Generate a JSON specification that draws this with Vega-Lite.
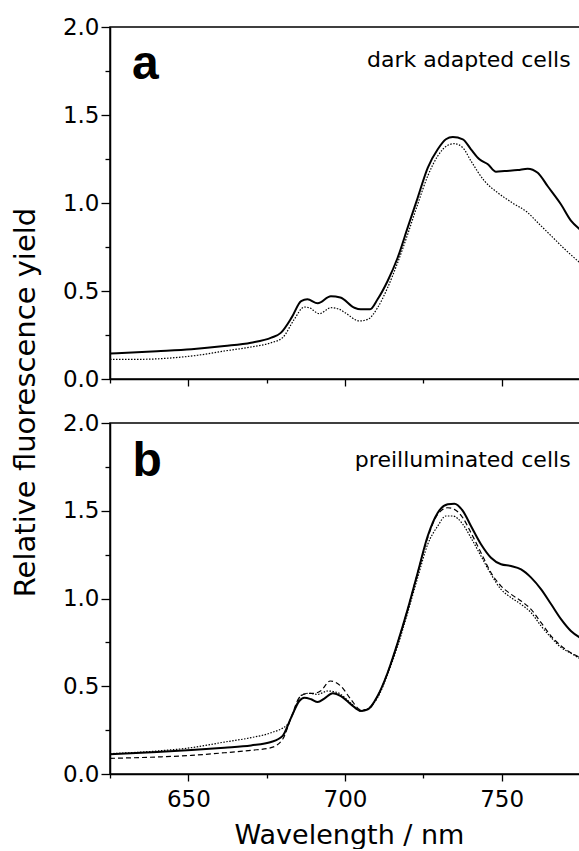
{
  "$schema": "https://vega.github.io/schema/vega-lite/v6.json",
  "background": "white",
  "padding": {"left": 10, "top": 15, "right": 2, "bottom": 0},
  "spacing": 44,
  "bounds": "flush",
  "config": {
    "view": {"stroke": "black", "strokeWidth": 1.5},
    "axis": {"labelFont": "DejaVu Sans", "titleFont": "DejaVu Sans", "labelColor": "black", "titleColor": "black", "domainColor": "black", "tickColor": "black", "domainWidth": 1.5, "tickWidth": 1.3, "grid": false, "titleFontWeight": "normal", "labelOverlap": false}
  },
  "datasets": {
    "curves": [
      {"panel":"a","curve":"solid","wl":625,"y":0.145},{"panel":"a","curve":"solid","wl":640,"y":0.158},{"panel":"a","curve":"solid","wl":651,"y":0.169},{"panel":"a","curve":"solid","wl":661.5,"y":0.187},{"panel":"a","curve":"solid","wl":670,"y":0.206},{"panel":"a","curve":"solid","wl":676.5,"y":0.235},{"panel":"a","curve":"solid","wl":679.5,"y":0.262},{"panel":"a","curve":"solid","wl":683,"y":0.35},{"panel":"a","curve":"solid","wl":686,"y":0.443},{"panel":"a","curve":"solid","wl":688,"y":0.453},{"panel":"a","curve":"solid","wl":691.3,"y":0.43},{"panel":"a","curve":"solid","wl":695.5,"y":0.47},{"panel":"a","curve":"solid","wl":698.5,"y":0.463},{"panel":"a","curve":"solid","wl":703,"y":0.405},{"panel":"a","curve":"solid","wl":705,"y":0.396},{"panel":"a","curve":"solid","wl":708,"y":0.396},{"panel":"a","curve":"solid","wl":710.4,"y":0.453},{"panel":"a","curve":"solid","wl":713.6,"y":0.557},{"panel":"a","curve":"solid","wl":716.8,"y":0.689},{"panel":"a","curve":"solid","wl":720,"y":0.86},{"panel":"a","curve":"solid","wl":723.2,"y":1.03},{"panel":"a","curve":"solid","wl":726.4,"y":1.2},{"panel":"a","curve":"solid","wl":729.6,"y":1.305},{"panel":"a","curve":"solid","wl":732.2,"y":1.362},{"panel":"a","curve":"solid","wl":734.4,"y":1.375},{"panel":"a","curve":"solid","wl":737.6,"y":1.362},{"panel":"a","curve":"solid","wl":740.2,"y":1.305},{"panel":"a","curve":"solid","wl":742.9,"y":1.248},{"panel":"a","curve":"solid","wl":745.6,"y":1.22},{"panel":"a","curve":"solid","wl":748.2,"y":1.178},{"panel":"a","curve":"solid","wl":750.9,"y":1.182},{"panel":"a","curve":"solid","wl":755.1,"y":1.187},{"panel":"a","curve":"solid","wl":758.3,"y":1.195},{"panel":"a","curve":"solid","wl":761.5,"y":1.172},{"panel":"a","curve":"solid","wl":764.7,"y":1.095},{"panel":"a","curve":"solid","wl":768.9,"y":0.993},{"panel":"a","curve":"solid","wl":772.1,"y":0.9},{"panel":"a","curve":"solid","wl":775,"y":0.85},
      {"panel":"a","curve":"dotted","wl":625,"y":0.112},{"panel":"a","curve":"dotted","wl":635,"y":0.112},{"panel":"a","curve":"dotted","wl":645.5,"y":0.121},{"panel":"a","curve":"dotted","wl":653,"y":0.135},{"panel":"a","curve":"dotted","wl":661.5,"y":0.159},{"panel":"a","curve":"dotted","wl":670,"y":0.182},{"panel":"a","curve":"dotted","wl":676.4,"y":0.206},{"panel":"a","curve":"dotted","wl":680.1,"y":0.235},{"panel":"a","curve":"dotted","wl":683.8,"y":0.339},{"panel":"a","curve":"dotted","wl":687,"y":0.409},{"panel":"a","curve":"dotted","wl":688.6,"y":0.405},{"panel":"a","curve":"dotted","wl":691.8,"y":0.371},{"panel":"a","curve":"dotted","wl":695.5,"y":0.405},{"panel":"a","curve":"dotted","wl":698.2,"y":0.396},{"panel":"a","curve":"dotted","wl":700,"y":0.377},{"panel":"a","curve":"dotted","wl":704.6,"y":0.33},{"panel":"a","curve":"dotted","wl":707.3,"y":0.339},{"panel":"a","curve":"dotted","wl":710.4,"y":0.405},{"panel":"a","curve":"dotted","wl":713.6,"y":0.519},{"panel":"a","curve":"dotted","wl":716.8,"y":0.661},{"panel":"a","curve":"dotted","wl":720,"y":0.822},{"panel":"a","curve":"dotted","wl":723.2,"y":0.993},{"panel":"a","curve":"dotted","wl":726.4,"y":1.153},{"panel":"a","curve":"dotted","wl":729.6,"y":1.267},{"panel":"a","curve":"dotted","wl":732.8,"y":1.328},{"panel":"a","curve":"dotted","wl":734.9,"y":1.337},{"panel":"a","curve":"dotted","wl":737.6,"y":1.314},{"panel":"a","curve":"dotted","wl":740.2,"y":1.239},{"panel":"a","curve":"dotted","wl":744.5,"y":1.125},{"panel":"a","curve":"dotted","wl":748.7,"y":1.059},{"panel":"a","curve":"dotted","wl":753.5,"y":1.0},{"panel":"a","curve":"dotted","wl":758,"y":0.95},{"panel":"a","curve":"dotted","wl":762,"y":0.88},{"panel":"a","curve":"dotted","wl":766,"y":0.81},{"panel":"a","curve":"dotted","wl":770,"y":0.74},{"panel":"a","curve":"dotted","wl":775,"y":0.66},
      {"panel":"b","curve":"solid","wl":625,"y":0.112},{"panel":"b","curve":"solid","wl":640,"y":0.125},{"panel":"b","curve":"solid","wl":651,"y":0.137},{"panel":"b","curve":"solid","wl":661.5,"y":0.15},{"panel":"b","curve":"solid","wl":670,"y":0.163},{"panel":"b","curve":"solid","wl":676.4,"y":0.182},{"panel":"b","curve":"solid","wl":680.1,"y":0.217},{"panel":"b","curve":"solid","wl":682.8,"y":0.321},{"panel":"b","curve":"solid","wl":685.4,"y":0.416},{"panel":"b","curve":"solid","wl":687,"y":0.435},{"panel":"b","curve":"solid","wl":689.2,"y":0.426},{"panel":"b","curve":"solid","wl":691.3,"y":0.41},{"panel":"b","curve":"solid","wl":693.4,"y":0.43},{"panel":"b","curve":"solid","wl":696.1,"y":0.46},{"panel":"b","curve":"solid","wl":698.7,"y":0.444},{"panel":"b","curve":"solid","wl":701.9,"y":0.397},{"panel":"b","curve":"solid","wl":705.1,"y":0.359},{"panel":"b","curve":"solid","wl":707.3,"y":0.368},{"panel":"b","curve":"solid","wl":710.4,"y":0.444},{"panel":"b","curve":"solid","wl":713.6,"y":0.577},{"panel":"b","curve":"solid","wl":716.8,"y":0.748},{"panel":"b","curve":"solid","wl":720,"y":0.938},{"panel":"b","curve":"solid","wl":723.2,"y":1.147},{"panel":"b","curve":"solid","wl":726.4,"y":1.356},{"panel":"b","curve":"solid","wl":729.6,"y":1.489},{"panel":"b","curve":"solid","wl":732.8,"y":1.537},{"panel":"b","curve":"solid","wl":734.9,"y":1.54},{"panel":"b","curve":"solid","wl":737.6,"y":1.499},{"panel":"b","curve":"solid","wl":740.2,"y":1.413},{"panel":"b","curve":"solid","wl":743.4,"y":1.309},{"panel":"b","curve":"solid","wl":746.6,"y":1.232},{"panel":"b","curve":"solid","wl":749.8,"y":1.195},{"panel":"b","curve":"solid","wl":753,"y":1.185},{"panel":"b","curve":"solid","wl":756.2,"y":1.166},{"panel":"b","curve":"solid","wl":759.4,"y":1.119},{"panel":"b","curve":"solid","wl":762.6,"y":1.052},{"panel":"b","curve":"solid","wl":765.8,"y":0.967},{"panel":"b","curve":"solid","wl":769,"y":0.881},{"panel":"b","curve":"solid","wl":772.1,"y":0.815},{"panel":"b","curve":"solid","wl":775,"y":0.777},
      {"panel":"b","curve":"dashed","wl":625,"y":0.089},{"panel":"b","curve":"dashed","wl":640,"y":0.097},{"panel":"b","curve":"dashed","wl":651,"y":0.106},{"panel":"b","curve":"dashed","wl":661.5,"y":0.121},{"panel":"b","curve":"dashed","wl":670,"y":0.135},{"panel":"b","curve":"dashed","wl":676.4,"y":0.15},{"panel":"b","curve":"dashed","wl":680.1,"y":0.198},{"panel":"b","curve":"dashed","wl":682.8,"y":0.321},{"panel":"b","curve":"dashed","wl":685.4,"y":0.435},{"panel":"b","curve":"dashed","wl":687.6,"y":0.458},{"panel":"b","curve":"dashed","wl":690.2,"y":0.46},{"panel":"b","curve":"dashed","wl":692.3,"y":0.475},{"panel":"b","curve":"dashed","wl":695.3,"y":0.53},{"panel":"b","curve":"dashed","wl":698.7,"y":0.5},{"panel":"b","curve":"dashed","wl":701.9,"y":0.425},{"panel":"b","curve":"dashed","wl":705.1,"y":0.365},{"panel":"b","curve":"dashed","wl":707.3,"y":0.368},{"panel":"b","curve":"dashed","wl":710.4,"y":0.444},{"panel":"b","curve":"dashed","wl":713.6,"y":0.577},{"panel":"b","curve":"dashed","wl":716.8,"y":0.748},{"panel":"b","curve":"dashed","wl":720,"y":0.938},{"panel":"b","curve":"dashed","wl":723.2,"y":1.147},{"panel":"b","curve":"dashed","wl":726.4,"y":1.346},{"panel":"b","curve":"dashed","wl":729.6,"y":1.48},{"panel":"b","curve":"dashed","wl":732.8,"y":1.517},{"panel":"b","curve":"dashed","wl":734.9,"y":1.508},{"panel":"b","curve":"dashed","wl":737.6,"y":1.46},{"panel":"b","curve":"dashed","wl":740.2,"y":1.375},{"panel":"b","curve":"dashed","wl":743.4,"y":1.261},{"panel":"b","curve":"dashed","wl":746.6,"y":1.147},{"panel":"b","curve":"dashed","wl":749.8,"y":1.071},{"panel":"b","curve":"dashed","wl":753,"y":1.024},{"panel":"b","curve":"dashed","wl":756.2,"y":0.986},{"panel":"b","curve":"dashed","wl":759.4,"y":0.938},{"panel":"b","curve":"dashed","wl":762.6,"y":0.862},{"panel":"b","curve":"dashed","wl":765.8,"y":0.786},{"panel":"b","curve":"dashed","wl":769,"y":0.729},{"panel":"b","curve":"dashed","wl":772.1,"y":0.691},{"panel":"b","curve":"dashed","wl":775,"y":0.663},
      {"panel":"b","curve":"dotted","wl":625,"y":0.116},{"panel":"b","curve":"dotted","wl":640,"y":0.131},{"panel":"b","curve":"dotted","wl":651,"y":0.15},{"panel":"b","curve":"dotted","wl":661.5,"y":0.182},{"panel":"b","curve":"dotted","wl":670,"y":0.207},{"panel":"b","curve":"dotted","wl":676.4,"y":0.235},{"panel":"b","curve":"dotted","wl":681.7,"y":0.283},{"panel":"b","curve":"dotted","wl":684,"y":0.369},{"panel":"b","curve":"dotted","wl":686,"y":0.448},{"panel":"b","curve":"dotted","wl":688.4,"y":0.46},{"panel":"b","curve":"dotted","wl":691.3,"y":0.454},{"panel":"b","curve":"dotted","wl":694.5,"y":0.473},{"panel":"b","curve":"dotted","wl":697.7,"y":0.463},{"panel":"b","curve":"dotted","wl":701.9,"y":0.403},{"panel":"b","curve":"dotted","wl":705.1,"y":0.359},{"panel":"b","curve":"dotted","wl":710.4,"y":0.435},{"panel":"b","curve":"dotted","wl":713.6,"y":0.568},{"panel":"b","curve":"dotted","wl":716.8,"y":0.729},{"panel":"b","curve":"dotted","wl":720,"y":0.919},{"panel":"b","curve":"dotted","wl":723.2,"y":1.119},{"panel":"b","curve":"dotted","wl":726.4,"y":1.309},{"panel":"b","curve":"dotted","wl":729.6,"y":1.413},{"panel":"b","curve":"dotted","wl":732.2,"y":1.47},{"panel":"b","curve":"dotted","wl":734.4,"y":1.47},{"panel":"b","curve":"dotted","wl":737.6,"y":1.423},{"panel":"b","curve":"dotted","wl":740.2,"y":1.346},{"panel":"b","curve":"dotted","wl":743.4,"y":1.242},{"panel":"b","curve":"dotted","wl":746.6,"y":1.138},{"panel":"b","curve":"dotted","wl":749.8,"y":1.052},{"panel":"b","curve":"dotted","wl":753,"y":1.005},{"panel":"b","curve":"dotted","wl":756.2,"y":0.967},{"panel":"b","curve":"dotted","wl":759.4,"y":0.919},{"panel":"b","curve":"dotted","wl":762.6,"y":0.843},{"panel":"b","curve":"dotted","wl":765.8,"y":0.777},{"panel":"b","curve":"dotted","wl":769,"y":0.72},{"panel":"b","curve":"dotted","wl":772.1,"y":0.688},{"panel":"b","curve":"dotted","wl":775,"y":0.657}
    ],
    "labels": [
      {"panel":"a","kind":"letter","text":"a","wl":632,"y":1.705},
      {"panel":"a","kind":"caption","text":"dark adapted cells","wl":772,"y":1.77},
      {"panel":"b","kind":"letter","text":"b","wl":632.2,"y":1.70},
      {"panel":"b","kind":"caption","text":"preilluminated cells","wl":772,"y":1.75}
    ]
  },
  "vconcat": [
    {
      "width": 470,
      "height": 352,
      "encoding": {
        "x": {"field": "wl", "type": "quantitative", "scale": {"domain": [625, 775], "nice": false, "zero": false},
          "axis": {"values": [625, 650, 675, 700, 725, 750], "labels": false, "title": null,
            "tickSize": {"condition": {"test": "datum.value % 50 === 0", "value": 7}, "value": 4}}},
        "y": {"field": "y", "type": "quantitative", "scale": {"domain": [0, 2], "nice": false},
          "axis": {"values": [0, 0.25, 0.5, 0.75, 1, 1.25, 1.5, 1.75, 2], "format": ".1f",
            "labelExpr": "(datum.value * 4) % 2 === 0 ? datum.label : ''",
            "tickSize": {"condition": {"test": "(datum.value * 4) % 2 === 0", "value": 9}, "value": 5},
            "labelFontSize": 23, "labelPadding": 2,
            "title": "Relative fluorescence yield", "titleFontSize": 29, "titleAngle": -90,
            "titleAlign": "center", "titleBaseline": "alphabetic", "titleX": -76, "titleY": 375}}
      },
      "layer": [
        {"data": {"name": "curves"}, "transform": [{"filter": "datum.panel === 'a' && datum.curve === 'solid'"}],
          "mark": {"type": "line", "clip": true, "interpolate": "monotone", "color": "black", "strokeWidth": 2}},
        {"data": {"name": "curves"}, "transform": [{"filter": "datum.panel === 'a' && datum.curve !== 'solid'"}],
          "mark": {"type": "line", "clip": true, "interpolate": "monotone", "color": "black", "strokeWidth": 1.2},
          "encoding": {"strokeDash": {"field": "curve", "type": "nominal", "scale": {"domain": ["dashed", "dotted"], "range": [[5, 3], [1.5, 1.5]]}, "legend": null}}},
        {"data": {"name": "labels"}, "transform": [{"filter": "datum.panel === 'a' && datum.kind === 'letter'"}],
          "mark": {"type": "text", "font": "Liberation Sans", "fontWeight": "bold", "fontSize": 48, "align": "left", "baseline": "alphabetic", "color": "black"},
          "encoding": {"text": {"field": "text"}}},
        {"data": {"name": "labels"}, "transform": [{"filter": "datum.panel === 'a' && datum.kind === 'caption'"}],
          "mark": {"type": "text", "font": "DejaVu Sans", "fontSize": 22, "align": "right", "baseline": "alphabetic", "color": "black"},
          "encoding": {"text": {"field": "text"}}}
      ]
    },
    {
      "width": 470,
      "height": 351,
      "encoding": {
        "x": {"field": "wl", "type": "quantitative", "scale": {"domain": [625, 775], "nice": false, "zero": false},
          "axis": {"values": [625, 650, 675, 700, 725, 750], "format": "d",
            "labelExpr": "datum.value % 50 === 0 ? datum.label : ''",
            "tickSize": {"condition": {"test": "datum.value % 50 === 0", "value": 7}, "value": 4},
            "labelFontSize": 23, "labelPadding": 7,
            "title": "Wavelength / nm", "titleFontSize": 27, "titleBaseline": "alphabetic", "titleAlign": "center", "titleX": 239, "titleY": 69}},
        "y": {"field": "y", "type": "quantitative", "scale": {"domain": [0, 2], "nice": false},
          "axis": {"values": [0, 0.25, 0.5, 0.75, 1, 1.25, 1.5, 1.75, 2], "format": ".1f",
            "labelExpr": "(datum.value * 4) % 2 === 0 ? datum.label : ''",
            "tickSize": {"condition": {"test": "(datum.value * 4) % 2 === 0", "value": 9}, "value": 5},
            "labelFontSize": 23, "labelPadding": 2, "title": null}}
      },
      "layer": [
        {"data": {"name": "curves"}, "transform": [{"filter": "datum.panel === 'b' && datum.curve === 'solid'"}],
          "mark": {"type": "line", "clip": true, "interpolate": "monotone", "color": "black", "strokeWidth": 2}},
        {"data": {"name": "curves"}, "transform": [{"filter": "datum.panel === 'b' && datum.curve !== 'solid'"}],
          "mark": {"type": "line", "clip": true, "interpolate": "monotone", "color": "black", "strokeWidth": 1.2},
          "encoding": {"strokeDash": {"field": "curve", "type": "nominal", "scale": {"domain": ["dashed", "dotted"], "range": [[5, 3], [1.5, 1.5]]}, "legend": null}}},
        {"data": {"name": "labels"}, "transform": [{"filter": "datum.panel === 'b' && datum.kind === 'letter'"}],
          "mark": {"type": "text", "font": "Liberation Sans", "fontWeight": "bold", "fontSize": 48, "align": "left", "baseline": "alphabetic", "color": "black"},
          "encoding": {"text": {"field": "text"}}},
        {"data": {"name": "labels"}, "transform": [{"filter": "datum.panel === 'b' && datum.kind === 'caption'"}],
          "mark": {"type": "text", "font": "DejaVu Sans", "fontSize": 22, "align": "right", "baseline": "alphabetic", "color": "black"},
          "encoding": {"text": {"field": "text"}}}
      ]
    }
  ]
}
